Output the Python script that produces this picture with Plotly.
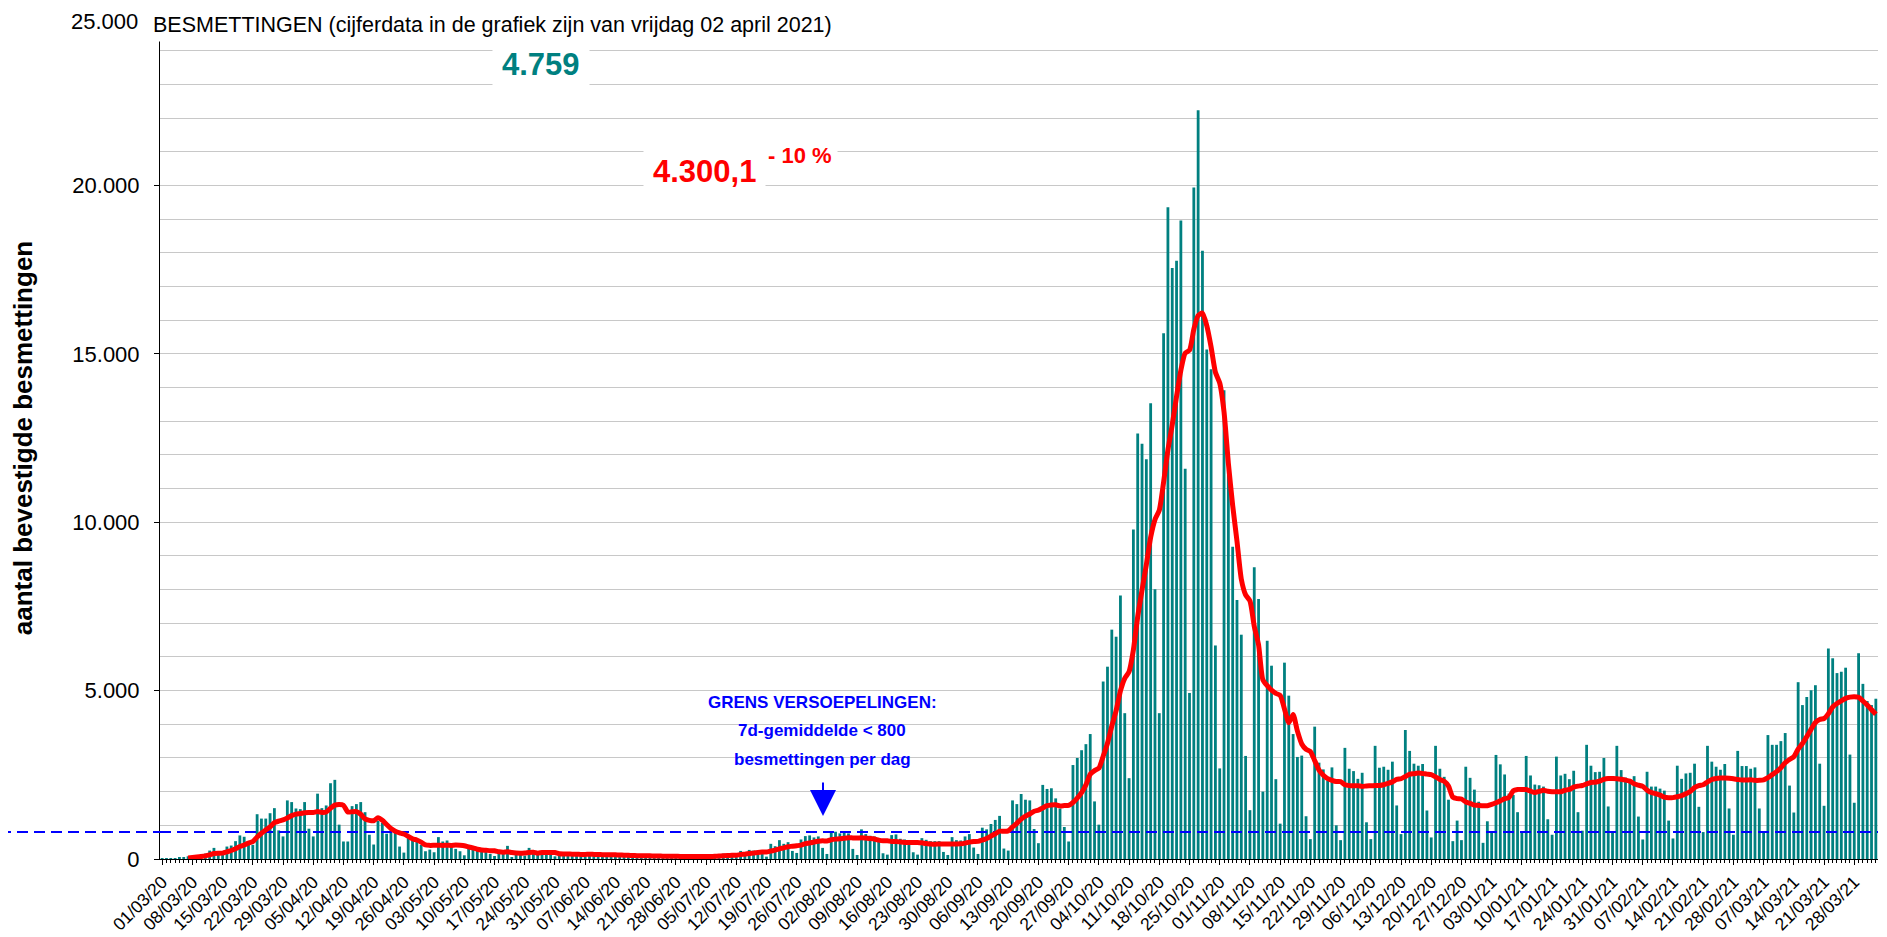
import pandas as pd
import plotly.graph_objects as go

# ---------------- data (daily confirmed infections, NL) ----------------
start_date = "2020-03-01"
end_date = "2021-04-02"

cases_2020_03 = [10, 10, 15, 20, 40, 60, 80,
                 90, 100, 120, 160, 250, 330, 140,
                 120, 370, 400, 530, 700, 660, 520,
                 420, 1330, 1200, 1200, 1360, 1510, 850,
                 670, 1740, 1690]
cases_2020_04 = [1500, 1480, 1690, 900,
                 670, 1940, 1510, 1590, 2250, 2350, 1020,
                 520, 520, 1570, 1630, 1690, 1390, 720,
                 430, 1130, 1070, 750, 850, 830, 370,
                 190, 630, 550, 530, 420]
cases_2020_05 = [230, 280,
                 200, 650, 520, 550, 400, 300, 230,
                 110, 420, 300, 270, 250, 240, 150,
                 90, 200, 210, 390, 60, 140, 130,
                 100, 330, 250, 200, 180, 170, 120,
                 80]
cases_2020_06 = [100, 200, 180, 160, 140, 100,
                 70, 140, 170, 150, 130, 120, 90,
                 60, 120, 130, 110, 100, 90, 70,
                 50, 100, 110, 90, 80, 80, 60,
                 40, 80, 90]
cases_2020_07 = [80, 80, 70, 60,
                 40, 100, 120, 140, 160, 120, 80,
                 60, 240, 200, 270, 250, 260, 150,
                 70, 450, 380, 560, 450, 500, 240,
                 180, 580, 680, 700, 640, 670]
cases_2020_08 = [330,
                 150, 830, 810, 760, 780, 760, 300,
                 120, 880, 740, 690, 670, 530, 170,
                 130, 710, 730, 600, 580, 500, 200,
                 130, 620, 570, 530, 530, 530, 210,
                 120, 650]
cases_2020_09 = [560, 550, 670, 740, 340,
                 150, 930, 880, 1040, 1160, 1280, 310,
                 250, 1740, 1630, 1930, 1760, 1740, 890,
                 470, 2200, 2080, 2100, 1800, 1500, 950,
                 520, 2790, 3000, 3230]
cases_2020_10 = [3410, 3710, 1710,
                 1020, 5270, 5710, 6810, 6600, 7820, 4330,
                 2400, 9780, 12630, 12330, 11870, 13530, 8010,
                 4330, 15610, 19350, 17550, 17760, 18960, 11590,
                 4930, 19940, 22230, 18060, 15130, 14540, 6340]
cases_2020_11 = [2690, 13920, 11600, 9270, 7690, 6660, 3060,
                 1450, 8660, 7720, 2000, 6480, 5740, 2370,
                 1050, 5830, 4850, 3710, 3030, 3070, 1270,
                 590, 3930, 2860, 2660, 2330, 2720, 1000,
                 560, 3300]
cases_2020_12 = [2680, 2610, 2380, 2560, 1090,
                 590, 3360, 2710, 2740, 2650, 2890, 1590,
                 740, 3830, 3210, 2830, 2770, 2820, 1440,
                 640, 3360, 2680, 2440, 1760, 530, 1140,
                 560, 2740, 2410, 2060, 1700]
cases_2021_01 = [480, 1120,
                 820, 3090, 2810, 2510, 1940, 1900, 1390,
                 820, 3060, 2480, 2210, 2190, 2150, 1180,
                 720, 3040, 2480, 2530, 2370, 2620, 1390,
                 840, 3390, 2770, 2580, 2590, 3000, 1560,
                 830]
cases_2021_02 = [3360, 2640, 2420, 2370, 2460, 1260,
                 580, 2590, 2150, 2150, 2090, 2030, 1140,
                 610, 2770, 2380, 2540, 2560, 2830, 1550,
                 800, 3360, 2890, 2740, 2650, 2820, 1500,
                 720]
cases_2021_03 = [3210, 2760, 2760, 2680, 2720, 1500,
                 800, 3680, 3390, 3390, 3500, 3740, 2180,
                 1380, 5250, 4570, 4810, 5010, 5160, 2830,
                 1580, 6250, 5960, 5520, 5560, 5680, 3100,
                 1670, 6110, 5200, 4690]
cases_2021_04 = [4570, 4759]

threshold = 800                      # grens versoepelingen
y_ticks = [0, 5000, 10000, 15000, 20000, 25000]
y_ticktext = ["0", "5.000", "10.000", "15.000", "20.000", ""]
y_top_label = "25.000"               # drawn separately so it is not clipped at the page top

title_text = "BESMETTINGEN (cijferdata in de grafiek zijn van vrijdag 02 april 2021)"
last_value_text = "4.759"
avg_text = "4.300,1"
change_text = "- 10 %"
note_lines = ["GRENS VERSOEPELINGEN:", "7d-gemiddelde &lt; 800", "besmettingen per dag"]
y_title = "aantal bevestigde besmettingen"

# ---------------- build ----------------
cases = (cases_2020_03 + cases_2020_04 + cases_2020_05 + cases_2020_06 +
         cases_2020_07 + cases_2020_08 + cases_2020_09 + cases_2020_10 +
         cases_2020_11 + cases_2020_12 + cases_2021_01 + cases_2021_02 +
         cases_2021_03 + cases_2021_04)
dates = pd.date_range(start_date, end_date, freq="D")
assert len(dates) == len(cases), (len(dates), len(cases))
avg7 = pd.Series(cases, dtype=float).rolling(7).mean()

half_day = pd.Timedelta(hours=12)
x_lo = dates[0] - half_day
x_hi = dates[-1] + half_day

TEAL = "#008080"
SANS = "Liberation Sans, Arial, sans-serif"

fig = go.Figure()
fig.add_trace(go.Bar(x=dates, y=cases, marker=dict(color=TEAL, line=dict(width=0)),
                     name="besmettingen"))
fig.add_trace(go.Scatter(x=[x_lo, x_hi], y=[threshold, threshold], mode="lines",
                         line=dict(color="#0000ff", width=2, dash="11px,6px"),
                         hoverinfo="skip", name="grens"))
fig.add_trace(go.Scatter(x=dates, y=avg7, mode="lines",
                         line=dict(color="#ff0000", width=5, shape="spline", smoothing=0.6),
                         name="7d-gemiddelde"))

# page has an 8px body margin: compensate so the plot lands where the reference has it
OFF = 8
W, H = 1887 - OFF, 937 - OFF
PLOT_L, PLOT_R, PLOT_T, PLOT_B = 160, 1878, 17, 859      # page pixels
L, T = PLOT_L - OFF, PLOT_T - OFF
R, B = W - (PLOT_R - OFF), H - (PLOT_B - OFF)
pw, ph = PLOT_R - PLOT_L, PLOT_B - PLOT_T

def px(x):
    return (x - PLOT_L) / pw

def py(y):
    return (PLOT_B - y) / ph

annotations = [
    dict(text=y_top_label, x=px(139), y=py(OFF), xref="paper", yref="paper",
         xanchor="right", yanchor="top", showarrow=False,
         font=dict(family=SANS, size=22, color="black"), borderpad=0),
    dict(text=title_text, x=px(148), y=py(OFF), xref="paper", yref="paper",
         xanchor="left", yanchor="top", showarrow=False,
         font=dict(family=SANS, size=21.5, color="black"),
         bgcolor="white", borderpad=4),
    dict(text=last_value_text, x=px(541), y=py(65), xref="paper", yref="paper",
         xanchor="center", yanchor="middle", showarrow=False,
         font=dict(family=SANS, size=31, color=TEAL, weight="bold"),
         bgcolor="white", borderpad=9),
    dict(text=avg_text, x=px(704), y=py(172), xref="paper", yref="paper",
         xanchor="center", yanchor="middle", showarrow=False,
         font=dict(family=SANS, size=31, color="#ff0000", weight="bold"),
         bgcolor="white", borderpad=9),
    dict(text=change_text, x=px(800), y=py(155), xref="paper", yref="paper",
         xanchor="center", yanchor="middle", showarrow=False,
         font=dict(family=SANS, size=22, color="#ff0000", weight="bold"),
         bgcolor="white", borderpad=5),
    dict(text=" ", x=px(823), y=py(816), xref="paper", yref="paper",
         ax=0, ay=-42, axref="pixel", ayref="pixel", showarrow=True,
         arrowhead=2, arrowsize=2.6, arrowwidth=2, arrowcolor="#0000ff"),
]
for line, yy in zip(note_lines, [702, 730, 759]):
    annotations.append(dict(text=line, x=px(822), y=py(yy), xref="paper", yref="paper",
                            xanchor="center", yanchor="middle", showarrow=False,
                            font=dict(family=SANS, size=17, color="#0000ff", weight="bold")))

shapes = [
    dict(type="rect", xref="paper", yref="paper", x0=px(681), x1=px(963),
         y0=py(790), y1=py(693), fillcolor="white", line=dict(width=0), layer="below"),
    dict(type="line", xref="paper", yref="y", x0=px(0), x1=0, y0=threshold, y1=threshold,
         line=dict(color="#0000ff", width=2, dash="11px,6px"), layer="above"),
]

fig.update_layout(
    width=W, height=H,
    margin=dict(l=L, r=R, t=T, b=B, autoexpand=False),
    paper_bgcolor="white", plot_bgcolor="white",
    showlegend=False, bargap=0.35,
    separators=",.",
    font=dict(family=SANS, color="black"),
    annotations=annotations, shapes=shapes,
    xaxis=dict(type="date", range=[x_lo, x_hi], automargin=False,
               tick0=start_date, dtick=7 * 86400000, tickformat="%d/%m/%y",
               tickangle=-45, ticks="outside", ticklen=5, tickcolor="black",
               tickfont=dict(family=SANS, size=17.5, color="black"),
               showline=True, linecolor="black", linewidth=1, showgrid=False,
               minor=dict(dtick=86400000, ticks="outside", ticklen=3,
                          tickcolor="black", showgrid=False)),
    yaxis=dict(range=[0, 25000], tickvals=y_ticks, ticktext=y_ticktext, automargin=False,
               ticks="outside", ticklen=5, tickcolor="black", ticklabelstandoff=10,
               tickfont=dict(family=SANS, size=22, color="black"),
               showline=True, linecolor="black", linewidth=1, zeroline=False,
               showgrid=True, gridcolor="#c8c8c8", gridwidth=1,
               minor=dict(dtick=1000, showgrid=True, gridcolor="#c8c8c8", ticks=""),
               title=dict(text=y_title, standoff=36,
                          font=dict(family=SANS, size=26, color="black", weight="bold"))),
)

fig.write_html("out.html")
